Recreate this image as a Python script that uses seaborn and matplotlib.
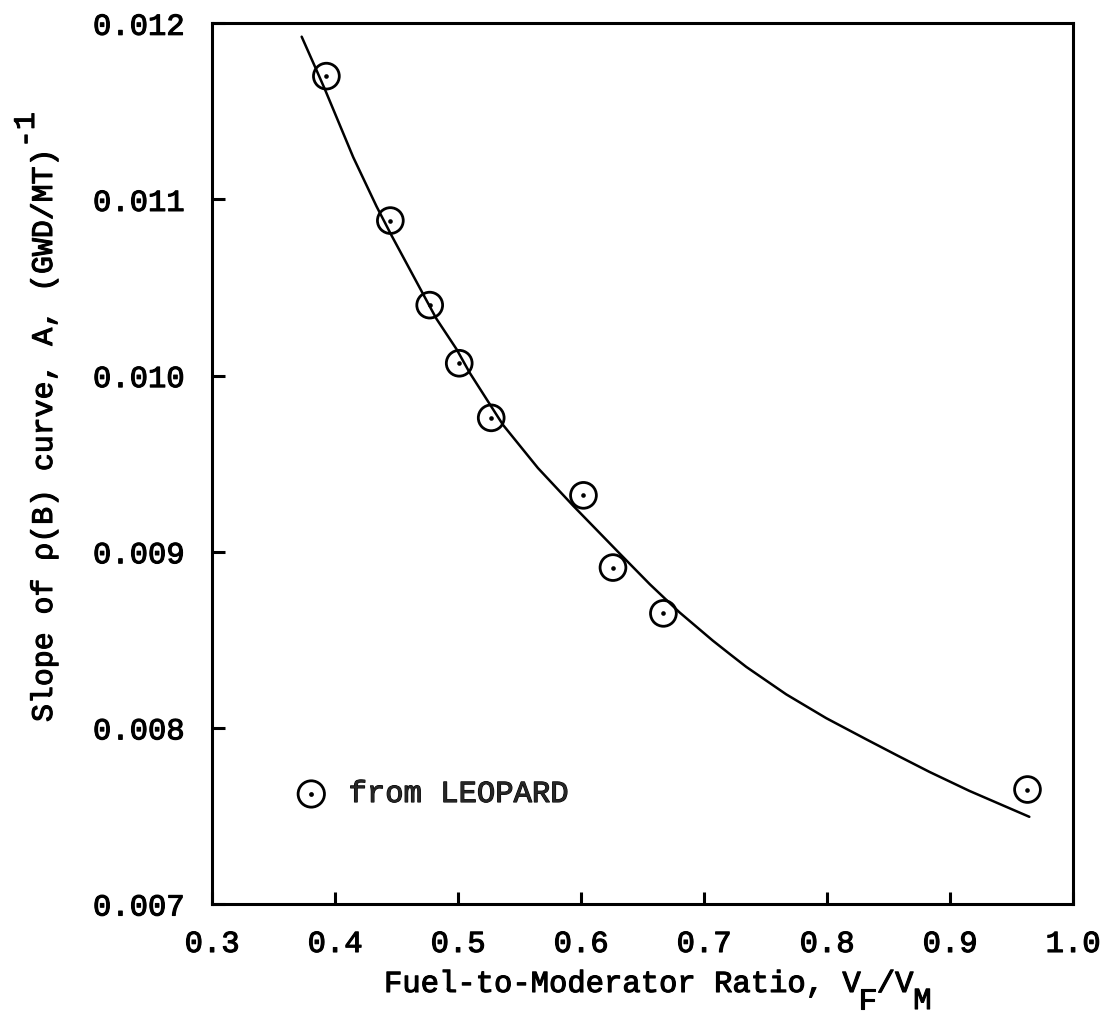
import matplotlib
matplotlib.use("Agg")
import matplotlib.pyplot as plt
import matplotlib.patheffects as pe
import seaborn as sns
import pandas as pd

# LEOPARD results: slope A of the rho(B) curve vs. fuel-to-moderator ratio
ratio_pts = [0.393, 0.445, 0.477, 0.501, 0.527, 0.602, 0.626, 0.667, 0.963]
slope_pts = [0.01170, 0.01088, 0.01040, 0.01007, 0.00976, 0.00932, 0.00891, 0.00865, 0.00765]

# hand-fitted curve through the LEOPARD points
curve_ratio = [0.3729, 0.3837, 0.3918, 0.4148, 0.4338, 0.4460, 0.4703, 0.4825, 0.4988,
               0.5096, 0.5366, 0.5650, 0.5935, 0.6314, 0.6560, 0.6802, 0.7072, 0.7208,
               0.7344, 0.7669, 0.7994, 0.8319, 0.8575, 0.8833, 0.9158, 0.9645]
curve_slope = [0.011924, 0.011754, 0.011625, 0.011240, 0.010960, 0.010795, 0.010480, 0.010322,
               0.010150, 0.010015, 0.009720, 0.009475, 0.009262, 0.008990, 0.008815, 0.008655,
               0.008495, 0.008420, 0.008346, 0.008190, 0.008055, 0.007935, 0.007842, 0.007750,
               0.007642, 0.007495]

x_ticks = [0.3, 0.4, 0.5, 0.6, 0.7, 0.8, 0.9, 1.0]
y_ticks = [0.007, 0.008, 0.009, 0.010, 0.011, 0.012]
legend_label = "from LEOPARD"
y_title = "Slope of ρ(B) curve, A, (GWD/MT)"
y_title_sup = "-1"
x_title_parts = ["Fuel-to-Moderator Ratio, V", "F", "/V", "M"]

sns.set_theme(style="white")
FONT = "Liberation Mono"
plt.rcParams["font.family"] = [FONT, "DejaVu Sans"]
plt.rcParams.update({
    "axes.axisbelow": False,
    "xtick.bottom": True, "ytick.left": True, "xtick.top": False, "ytick.right": False,
    "xtick.direction": "in", "ytick.direction": "in",
    "xtick.major.size": 9, "ytick.major.size": 9,
    "xtick.major.width": 2.2, "ytick.major.width": 2.2,
    "xtick.color": "black", "ytick.color": "black",
})
ink = [pe.withStroke(linewidth=0.8, foreground="black")]

W, H = 1107, 1015
fig = plt.figure(figsize=(W / 100, H / 100), dpi=100)
fig.patch.set_facecolor("white")
ax = fig.add_axes([212 / W, 1 - 904 / H, (1073 - 212) / W, (904 - 23.3) / H])
ax.set_facecolor("white")
ax.set_axisbelow(False)

curve = pd.DataFrame({"ratio": curve_ratio, "slope": curve_slope})
pts = pd.DataFrame({"ratio": ratio_pts, "slope": slope_pts})

sns.lineplot(data=curve, x="ratio", y="slope", ax=ax, color="black", lw=1.8,
             sort=True, estimator=None)
sns.scatterplot(data=pts, x="ratio", y="slope", ax=ax, marker="o", s=345,
                facecolor="none", edgecolor="black", linewidth=2.0, zorder=3)
sns.scatterplot(data=pts, x="ratio", y="slope", ax=ax, marker="o", s=11,
                color="black", edgecolor="black", linewidth=0, zorder=4)

ax.set_xlim(0.3, 1.0)
ax.set_ylim(0.007, 0.012)
ax.set_xticks(x_ticks)
ax.set_yticks(y_ticks)
ax.set_xticklabels([f"{v:.1f}" for v in x_ticks])
ax.set_yticklabels([f"{v:.3f}" for v in y_ticks])
ax.tick_params(axis="both", which="major", direction="in", length=9, width=2.2,
               color="black", labelcolor="black", labelsize=22,
               bottom=True, left=True, top=False, right=False)
ax.tick_params(axis="y", pad=20)
ax.tick_params(axis="x", pad=18)
ax.xaxis.set_zorder(5)
ax.yaxis.set_zorder(5)
for lab in ax.get_xticklabels() + ax.get_yticklabels():
    lab.set_path_effects(ink)
for sp in ax.spines.values():
    sp.set_visible(True)
    sp.set_color("black")
    sp.set_linewidth(2.2)
ax.set_xlabel("")
ax.set_ylabel("")

# legend: open circle with centre dot
h_ring = ax.scatter([], [], marker="o", s=360, facecolor="none", edgecolor="black", linewidth=2.0)
h_dot = ax.scatter([], [], marker="o", s=12, color="black", linewidth=0)
leg = ax.legend(handles=[(h_ring, h_dot)], labels=[legend_label], loc="center left",
                bbox_to_anchor=((296 - 212) / 861, (904 - 794) / 880.7), frameon=False,
                borderpad=0, borderaxespad=0, handlelength=1.0, handletextpad=0.72,
                prop={"family": FONT, "size": 22})
for t in leg.get_texts():
    t.set_path_effects(ink)

# x-axis title, typewriter style: subscripts are full-size letters set lower
x0, xb = 384, 992
probe = fig.text(0, 0, x_title_parts[0], fontsize=22)
fig.canvas.draw()
pitch_x = probe.get_window_extent().width / len(x_title_parts[0])
probe.remove()
col = 0
for k, part in enumerate(x_title_parts):
    drop = 17 if k % 2 else 0
    fig.text((x0 + col * pitch_x) / W, 1 - (xb + drop) / H, part, ha="left",
             va="baseline", fontsize=22, color="black", path_effects=ink)
    col += len(part)

# y-axis title, rotated, with a raised full-size exponent
yb, y0 = 52, 722
ty = fig.text(yb / W, 1 - y0 / H, y_title, rotation=90, rotation_mode="anchor",
              ha="left", va="baseline", fontsize=21.5, color="black", path_effects=ink)
fig.canvas.draw()
pitch_y = ty.get_window_extent().height / len(y_title)
fig.text((yb - 18) / W, 1 - (y0 - len(y_title) * pitch_y - 2) / H, y_title_sup,
         rotation=90, rotation_mode="anchor", ha="left", va="baseline", fontsize=21.5,
         color="black", path_effects=ink)

fig.savefig("out.png", dpi=100, facecolor="white")
